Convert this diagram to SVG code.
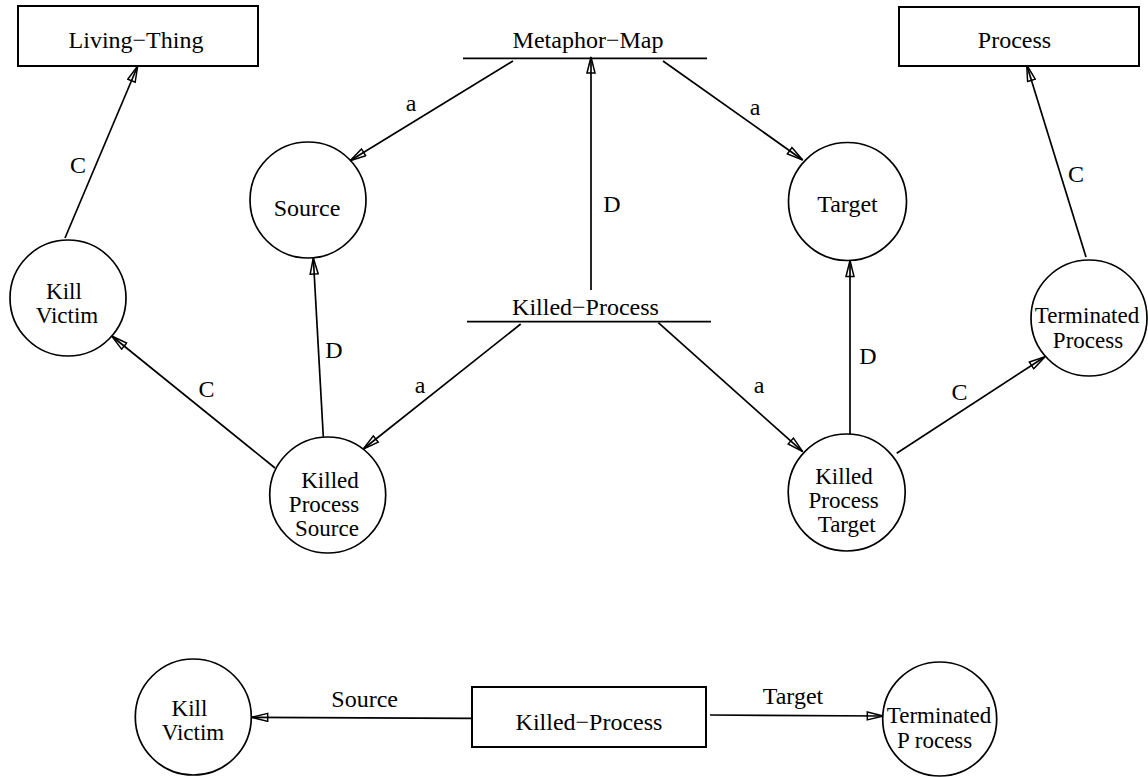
<svg xmlns="http://www.w3.org/2000/svg" width="1148" height="777" viewBox="0 0 1148 777">
  <style>
    text { font-family: "Liberation Serif", "Times New Roman", serif; font-size: 24px; fill: #000; text-anchor: middle; }
    .ml { font-size: 23px; }
    .box { fill: #fff; stroke: #000; stroke-width: 2; }
    .circ { fill: #fff; stroke: #000; stroke-width: 1.7; }
    .bar { stroke: #000; stroke-width: 1.7; fill: none; }
    .edge { stroke: #000; stroke-width: 1.7; fill: none; marker-end: url(#hollow); }
  </style>
  <defs>
    <marker id="hollow" markerUnits="userSpaceOnUse" viewBox="0 0 18 10" refX="17" refY="5" markerWidth="18" markerHeight="10" orient="auto">
      <path d="M1,1 L17,5 L1,9 Z" fill="none" stroke="#000" stroke-width="1.5"/>
    </marker>
  </defs>
  <rect width="1148" height="777" fill="#fff"/>

  <!-- connectors -->
  <g id="connectors">
    <line class="edge" x1="65" y1="238" x2="137.7" y2="66"/>
    <text x="78" y="173">C</text>
    <line class="edge" x1="513" y1="61" x2="350" y2="160.7"/>
    <text x="411" y="111">a</text>
    <line class="edge" x1="663" y1="61" x2="802.7" y2="160"/>
    <text x="755" y="115">a</text>
    <line class="edge" x1="591" y1="290" x2="591" y2="57"/>
    <text x="612" y="212">D</text>
    <line class="edge" x1="1086" y1="257" x2="1026.7" y2="65"/>
    <text x="1076" y="182">C</text>
    <line class="edge" x1="323.3" y1="436.7" x2="313.3" y2="258"/>
    <text x="334" y="358">D</text>
    <line class="edge" x1="275" y1="468" x2="111.7" y2="336"/>
    <text x="206.5" y="397">C</text>
    <line class="edge" x1="520.7" y1="324" x2="363.3" y2="449"/>
    <text x="420" y="393">a</text>
    <line class="edge" x1="658.3" y1="322.7" x2="802.7" y2="451.7"/>
    <text x="759" y="393">a</text>
    <line class="edge" x1="850" y1="435" x2="850" y2="260.5"/>
    <text x="868" y="364">D</text>
    <line class="edge" x1="896.7" y1="453.3" x2="1045" y2="356.7"/>
    <text x="959.5" y="400">C</text>
    <line class="edge" x1="471.7" y1="718.3" x2="251.7" y2="717.3"/>
    <text x="364.7" y="707">Source</text>
    <line class="edge" x1="710" y1="715" x2="883.3" y2="716"/>
    <text x="793" y="704">Target</text>
  </g>

  <!-- concept nodes -->
  <g id="living-thing">
    <rect class="box" x="18" y="6" width="240" height="60"/>
    <text x="136" y="48">Living−Thing</text>
  </g>
  <g id="metaphor-map">
    <line class="bar" x1="463" y1="58.3" x2="707" y2="58.3"/>
    <text x="588" y="48">Metaphor−Map</text>
  </g>
  <g id="process">
    <rect class="box" x="899" y="7" width="240" height="59"/>
    <text x="1014.5" y="48">Process</text>
  </g>
  <g id="source">
    <circle class="circ" cx="308" cy="200" r="58"/>
    <text x="307" y="216">Source</text>
  </g>
  <g id="target">
    <circle class="circ" cx="847.5" cy="201.5" r="59"/>
    <text x="847.5" y="212">Target</text>
  </g>
  <g id="kill-victim">
    <circle class="circ" cx="68" cy="298" r="58"/>
    <text class="ml" x="64" y="299">Kill</text>
    <text class="ml" x="67" y="323">Victim</text>
  </g>
  <g id="killed-process">
    <line class="bar" x1="467" y1="321.7" x2="711" y2="321.7"/>
    <text x="585.5" y="315">Killed−Process</text>
  </g>
  <g id="terminated-process">
    <circle class="circ" cx="1089" cy="318" r="58"/>
    <text class="ml" x="1087" y="323">Terminated</text>
    <text class="ml" x="1088" y="348">Process</text>
  </g>
  <g id="killed-process-source">
    <circle class="circ" cx="327.7" cy="495" r="58"/>
    <text class="ml" x="330" y="488">Killed</text>
    <text class="ml" x="324" y="512">Process</text>
    <text class="ml" x="327" y="536">Source</text>
  </g>
  <g id="killed-process-target">
    <circle class="circ" cx="846.7" cy="492.5" r="58.5"/>
    <text class="ml" x="844" y="484">Killed</text>
    <text class="ml" x="843.7" y="508">Process</text>
    <text class="ml" x="846.7" y="532">Target</text>
  </g>

  <!-- summary row -->
  <g id="kill-victim-2">
    <circle class="circ" cx="193.3" cy="717" r="58"/>
    <text class="ml" x="189.5" y="716">Kill</text>
    <text class="ml" x="193" y="740">Victim</text>
  </g>
  <g id="killed-process-2">
    <rect class="box" x="472" y="687" width="234" height="60"/>
    <text x="589" y="730">Killed−Process</text>
  </g>
  <g id="terminated-process-2">
    <circle class="circ" cx="939.7" cy="719" r="57"/>
    <text class="ml" x="939" y="723">Terminated</text>
    <text class="ml" x="934.7" y="748">P rocess</text>
  </g>
</svg>
